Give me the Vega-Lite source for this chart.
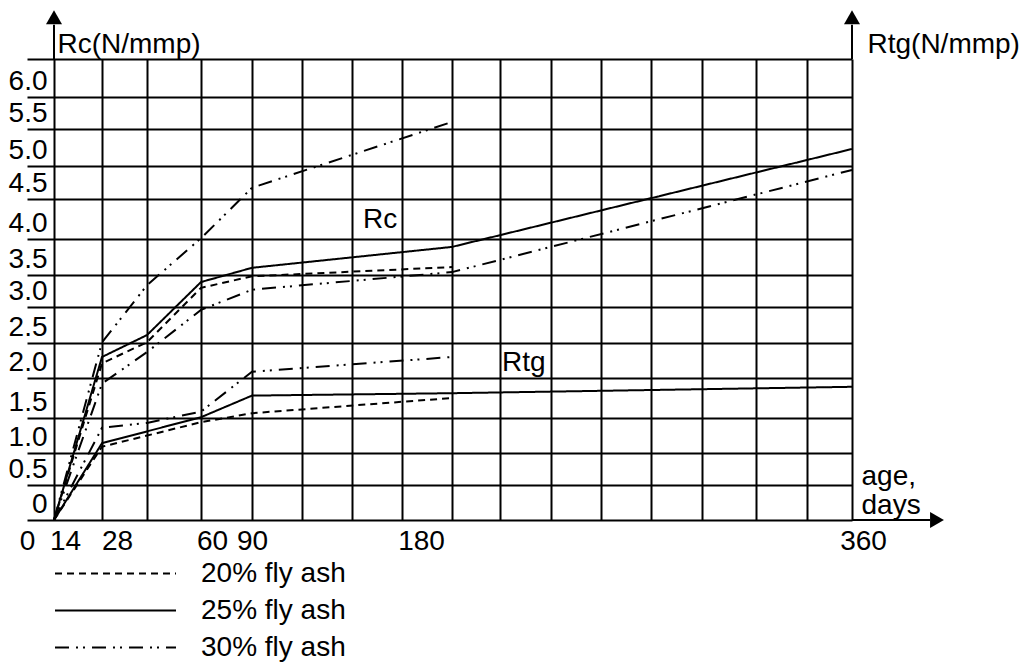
{
  "$schema": "https://vega.github.io/schema/vega-lite/v6.json",
  "width": 798,
  "height": 461,
  "autosize": "none",
  "padding": {"left": 54, "top": 59, "right": 169, "bottom": 144},
  "background": "white",
  "config": {
    "view": {"stroke": null},
    "font": "Liberation Sans",
    "axis": {
      "labelFont": "Liberation Sans", "labelFontSize": 28, "labelColor": "black",
      "titleFont": "Liberation Sans", "titleFontSize": 28, "titleFontWeight": "normal", "titleColor": "black",
      "gridColor": "black", "gridWidth": 2, "gridOpacity": 1,
      "domain": false, "ticks": false, "labelOverlap": false, "labelBound": false, "labelFlush": false
    },
    "legend": {
      "orient": "none", "legendX": 0, "legendY": 496, "padding": 0,
      "symbolType": "stroke", "symbolSize": 14641, "symbolStrokeWidth": 2, "symbolStrokeColor": "black",
      "clipHeight": 37, "rowPadding": 0,
      "labelFont": "Liberation Sans", "labelFontSize": 28, "labelColor": "black", "labelOffset": 24, "labelBaseline": "middle",
      "labelLimit": 400
    }
  },
  "datasets": {
    "curves": [
      {"series": "Rc25", "ash": "25% fly ash", "day": 14, "val": 0},
      {"series": "Rc25", "ash": "25% fly ash", "day": 28, "val": 2.30},
      {"series": "Rc25", "ash": "25% fly ash", "day": 44, "val": 2.61},
      {"series": "Rc25", "ash": "25% fly ash", "day": 60, "val": 3.39},
      {"series": "Rc25", "ash": "25% fly ash", "day": 90, "val": 3.60},
      {"series": "Rc25", "ash": "25% fly ash", "day": 180, "val": 3.89},
      {"series": "Rc25", "ash": "25% fly ash", "day": 360, "val": 5.23},
      {"series": "Rc20", "ash": "20% fly ash", "day": 14, "val": 0},
      {"series": "Rc20", "ash": "20% fly ash", "day": 28, "val": 2.21},
      {"series": "Rc20", "ash": "20% fly ash", "day": 44, "val": 2.51},
      {"series": "Rc20", "ash": "20% fly ash", "day": 60, "val": 3.30},
      {"series": "Rc20", "ash": "20% fly ash", "day": 90, "val": 3.48},
      {"series": "Rc20", "ash": "20% fly ash", "day": 180, "val": 3.61},
      {"series": "Rc30a", "ash": "30% fly ash", "day": 14, "val": 0},
      {"series": "Rc30a", "ash": "30% fly ash", "day": 28, "val": 2.51},
      {"series": "Rc30a", "ash": "30% fly ash", "day": 44, "val": 3.34},
      {"series": "Rc30a", "ash": "30% fly ash", "day": 60, "val": 4.01},
      {"series": "Rc30a", "ash": "30% fly ash", "day": 90, "val": 4.67},
      {"series": "Rc30a", "ash": "30% fly ash", "day": 180, "val": 5.61},
      {"series": "Rc30b", "ash": "30% fly ash", "day": 14, "val": 0},
      {"series": "Rc30b", "ash": "30% fly ash", "day": 28, "val": 1.93},
      {"series": "Rc30b", "ash": "30% fly ash", "day": 44, "val": 2.37},
      {"series": "Rc30b", "ash": "30% fly ash", "day": 60, "val": 2.96},
      {"series": "Rc30b", "ash": "30% fly ash", "day": 90, "val": 3.27},
      {"series": "Rc30b", "ash": "30% fly ash", "day": 180, "val": 3.54},
      {"series": "Rc30b", "ash": "30% fly ash", "day": 360, "val": 4.94},
      {"series": "Rtg30", "ash": "30% fly ash", "day": 14, "val": 0},
      {"series": "Rtg30", "ash": "30% fly ash", "day": 28, "val": 1.36},
      {"series": "Rtg30", "ash": "30% fly ash", "day": 44, "val": 1.43},
      {"series": "Rtg30", "ash": "30% fly ash", "day": 60, "val": 1.58},
      {"series": "Rtg30", "ash": "30% fly ash", "day": 90, "val": 2.09},
      {"series": "Rtg30", "ash": "30% fly ash", "day": 180, "val": 2.30},
      {"series": "Rtg25", "ash": "25% fly ash", "day": 14, "val": 0},
      {"series": "Rtg25", "ash": "25% fly ash", "day": 28, "val": 1.14},
      {"series": "Rtg25", "ash": "25% fly ash", "day": 60, "val": 1.51},
      {"series": "Rtg25", "ash": "25% fly ash", "day": 90, "val": 1.78},
      {"series": "Rtg25", "ash": "25% fly ash", "day": 180, "val": 1.81},
      {"series": "Rtg25", "ash": "25% fly ash", "day": 360, "val": 1.89},
      {"series": "Rtg20", "ash": "20% fly ash", "day": 14, "val": 0},
      {"series": "Rtg20", "ash": "20% fly ash", "day": 28, "val": 1.09},
      {"series": "Rtg20", "ash": "20% fly ash", "day": 60, "val": 1.44},
      {"series": "Rtg20", "ash": "20% fly ash", "day": 90, "val": 1.56},
      {"series": "Rtg20", "ash": "20% fly ash", "day": 180, "val": 1.75}
    ],
    "notes": [
      {"text": "Rc", "day": 140, "val": 4.24},
      {"text": "Rtg", "day": 203.4, "val": 2.21}
    ],
    "axislines": [
      {"day": 14, "day2": 14, "val": 6.5, "val2": 6.95},
      {"day": 360, "day2": 360, "val": 6.5, "val2": 6.95},
      {"day": 360, "day2": 399, "val": 0, "val2": 0}
    ],
    "arrows": [
      {"day": 14, "val": 7.05, "dir": "up"},
      {"day": 360, "val": 7.05, "dir": "up"},
      {"day": 402.5, "val": 0, "dir": "right"}
    ]
  },
  "resolve": {"axis": {"y": "independent"}},
  "layer": [
    {
      "data": {"name": "curves"},
      "mark": {"type": "line", "color": "black", "strokeWidth": 2},
      "encoding": {
        "x": {
          "field": "day", "type": "quantitative",
          "scale": {"type": "linear", "domain": [0, 14, 28, 44, 60, 90, 112.5, 135, 157.5, 180, 202.5, 225, 247.5, 270, 292.5, 315, 337.5, 360], "range": [-27, 0, 48, 93, 147, 198, 248, 298, 348, 398, 446, 497, 547, 597, 648, 702, 753, 798], "zero": false, "nice": false},
          "axis": {
            "values": [0, 14, 28, 44, 60, 90, 112.5, 135, 157.5, 180, 202.5, 225, 247.5, 270, 292.5, 315, 337.5, 360],
            "labelExpr": "indexof([0, 14, 28, 60, 90, 180, 360], datum.value) >= 0 ? toString(datum.value) : ''",
            "labelPadding": 7,
            "labelOffset": {"condition": [{"test": "datum.value == 180", "value": -31}, {"test": "datum.value == 0 || datum.value == 90", "value": 0}, {"test": "datum.value == 28", "value": 15}], "value": 11},
            "gridOpacity": {"condition": {"test": "datum.value == 0", "value": 0}, "value": 1},
            "title": ["age,", "days"],
            "titleAlign": "left", "titleBaseline": "alphabetic", "titleX": 807, "titleY": -36, "titleLineHeight": 29
          }
        },
        "y": {
          "field": "val", "type": "quantitative",
          "scale": {"type": "linear", "domain": [0, 0.5, 1, 1.5, 2, 2.5, 3, 3.5, 4, 4.5, 5, 5.5, 6, 6.5], "range": [461, 426, 394, 359, 319, 284, 248, 216, 180, 140, 107, 70, 38, 0], "zero": false, "nice": false},
          "axis": {
            "orient": "left",
            "values": [0, 0.5, 1, 1.5, 2, 2.5, 3, 3.5, 4, 4.5, 5, 5.5, 6, 6.5],
            "labelExpr": "datum.value > 6.2 ? '' : datum.value == 0 ? '0' : format(datum.value, '.1f')",
            "labelBaseline": "middle", "labelOffset": -16, "labelPadding": 7, "labelAlign": "right",
            "title": "Rc(N/mmp)", "titleAngle": 0, "titleAlign": "left", "titleBaseline": "alphabetic", "titleX": 3, "titleY": -7
          }
        },
        "detail": {"field": "series"},
        "strokeDash": {
          "field": "ash", "type": "nominal",
          "scale": {"domain": ["20% fly ash", "25% fly ash", "30% fly ash"], "range": [[7, 5], [1, 0], [14, 7, 2, 5, 2, 7]]},
          "legend": {"title": null}
        }
      }
    },
    {
      "data": {"name": "notes"},
      "mark": {"type": "text", "align": "left", "baseline": "middle", "fontSize": 28, "font": "Liberation Sans", "color": "black"},
      "encoding": {
        "x": {"field": "day", "type": "quantitative", "scale": {"type": "linear", "domain": [0, 14, 28, 44, 60, 90, 112.5, 135, 157.5, 180, 202.5, 225, 247.5, 270, 292.5, 315, 337.5, 360], "range": [-27, 0, 48, 93, 147, 198, 248, 298, 348, 398, 446, 497, 547, 597, 648, 702, 753, 798], "zero": false, "nice": false}},
        "y": {
          "field": "val", "type": "quantitative",
          "scale": {"type": "linear", "domain": [0, 0.5, 1, 1.5, 2, 2.5, 3, 3.5, 4, 4.5, 5, 5.5, 6, 6.5], "range": [461, 426, 394, 359, 319, 284, 248, 216, 180, 140, 107, 70, 38, 0], "zero": false, "nice": false},
          "axis": {"orient": "right", "title": "Rtg(N/mmp)", "labels": false, "grid": false, "ticks": false, "domain": false, "titleAngle": 0, "titleAlign": "left", "titleBaseline": "alphabetic", "titleX": 15, "titleY": -7}
        },
        "text": {"field": "text"}
      }
    },
    {
      "data": {"name": "axislines"},
      "mark": {"type": "rule", "color": "black", "strokeWidth": 2},
      "encoding": {
        "x": {"field": "day", "type": "quantitative", "scale": {"type": "linear", "domain": [0, 14, 28, 44, 60, 90, 112.5, 135, 157.5, 180, 202.5, 225, 247.5, 270, 292.5, 315, 337.5, 360], "range": [-27, 0, 48, 93, 147, 198, 248, 298, 348, 398, 446, 497, 547, 597, 648, 702, 753, 798], "zero": false, "nice": false}},
        "x2": {"field": "day2"},
        "y": {"field": "val", "type": "quantitative", "scale": {"type": "linear", "domain": [0, 0.5, 1, 1.5, 2, 2.5, 3, 3.5, 4, 4.5, 5, 5.5, 6, 6.5], "range": [461, 426, 394, 359, 319, 284, 248, 216, 180, 140, 107, 70, 38, 0], "zero": false, "nice": false}, "axis": null},
        "y2": {"field": "val2"}
      }
    },
    {
      "data": {"name": "arrows"},
      "mark": {"type": "point", "filled": true, "color": "black", "size": 256, "strokeWidth": 0, "opacity": 1},
      "encoding": {
        "x": {"field": "day", "type": "quantitative", "scale": {"type": "linear", "domain": [0, 14, 28, 44, 60, 90, 112.5, 135, 157.5, 180, 202.5, 225, 247.5, 270, 292.5, 315, 337.5, 360], "range": [-27, 0, 48, 93, 147, 198, 248, 298, 348, 398, 446, 497, 547, 597, 648, 702, 753, 798], "zero": false, "nice": false}},
        "y": {"field": "val", "type": "quantitative", "scale": {"type": "linear", "domain": [0, 0.5, 1, 1.5, 2, 2.5, 3, 3.5, 4, 4.5, 5, 5.5, 6, 6.5], "range": [461, 426, 394, 359, 319, 284, 248, 216, 180, 140, 107, 70, 38, 0], "zero": false, "nice": false}, "axis": null},
        "shape": {"field": "dir", "type": "nominal", "scale": {"domain": ["up", "right"], "range": ["triangle-up", "triangle-right"]}, "legend": null}
      }
    }
  ]
}
